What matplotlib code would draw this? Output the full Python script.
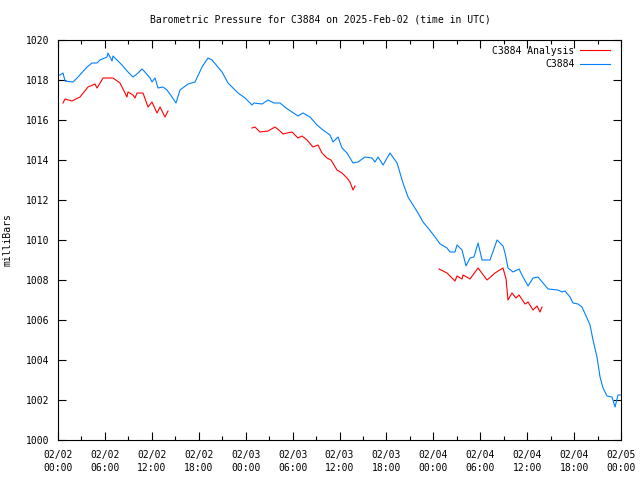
import numpy as np
import matplotlib
matplotlib.use('Agg')
import matplotlib.pyplot as plt
from matplotlib.ticker import MultipleLocator

# time in hours since 2025-02-02 00:00 UTC
obs_hours = [0.0, 0.26, 0.64, 0.9, 1.92, 2.56, 3.71, 4.35, 4.99, 5.37, 6.27, 6.39, 6.91, 7.03,
             8.18, 8.95, 9.59, 10.1, 10.74, 11.0, 11.77, 12.02, 12.41, 12.79, 13.43, 13.94,
             14.58, 15.09, 15.6, 16.63, 17.52, 18.42, 19.18, 19.7, 20.98, 21.74, 23.02, 23.92,
             24.81, 25.07, 26.09, 26.86, 27.62, 28.39, 29.16, 29.93, 30.69, 31.33, 32.23, 33.12,
             33.89, 34.79, 35.17, 35.81, 36.32, 36.96, 37.73, 38.37, 39.26, 40.16, 40.54, 40.93,
             41.57, 42.46, 43.36, 44.12, 44.76, 45.4, 46.04, 46.68, 47.32, 48.22, 48.86, 49.75,
             50.13, 50.77, 51.03, 51.67, 52.18, 52.69, 53.2, 53.72, 54.23, 55.25, 56.15, 56.91,
             57.17, 57.55, 58.19, 58.96, 59.47, 60.11, 60.75, 61.39, 62.03, 62.67, 63.94, 64.46,
             64.84, 65.48, 65.86, 66.5, 67.01, 67.65, 68.04, 68.42, 68.93, 69.32, 69.7, 70.21,
             70.85, 71.24, 71.62, 72.0]
obs_mb = [1018.25, 1018.25, 1018.35, 1017.95, 1017.9, 1018.15, 1018.65, 1018.85, 1018.85, 1019.0,
          1019.15, 1019.35, 1018.95, 1019.2, 1018.75, 1018.4, 1018.15, 1018.3, 1018.55, 1018.45,
          1018.1, 1017.9, 1018.1, 1017.6, 1017.65, 1017.5, 1017.15, 1016.85, 1017.5, 1017.8,
          1017.9, 1018.65, 1019.1, 1019.0, 1018.4, 1017.85, 1017.35, 1017.1, 1016.75, 1016.85,
          1016.8, 1017.0, 1016.85, 1016.85, 1016.6, 1016.4, 1016.2, 1016.35, 1016.15, 1015.75,
          1015.5, 1015.25, 1014.9, 1015.15, 1014.6, 1014.35, 1013.85, 1013.9, 1014.15, 1014.1,
          1013.9, 1014.15, 1013.75, 1014.35, 1013.85, 1012.85, 1012.15, 1011.75, 1011.35, 1010.9,
          1010.6, 1010.15, 1009.8, 1009.6, 1009.4, 1009.4, 1009.75, 1009.5, 1008.7, 1009.1,
          1009.15, 1009.85, 1009.0, 1009.0, 1010.0, 1009.7, 1009.35, 1008.6, 1008.4, 1008.55,
          1008.15, 1007.7, 1008.1, 1008.15, 1007.85, 1007.55, 1007.5, 1007.4, 1007.45, 1007.15,
          1006.85, 1006.8, 1006.65, 1006.1, 1005.75, 1005.0, 1004.15, 1003.15, 1002.6, 1002.2,
          1002.15, 1001.65, 1002.25, 1002.25]

ana_hours = [0.64, 0.9, 1.79, 2.81, 3.84, 4.73, 4.99, 5.76, 7.03, 7.93, 8.82, 8.95, 9.59, 9.85,
             10.1, 10.87, 11.51, 12.02, 12.66, 13.05, 13.68, 14.07,
             24.81, 25.19, 25.83, 26.86, 27.75, 28.39, 28.78, 29.29, 29.93, 30.69, 31.21, 31.85,
             32.61, 33.25, 33.76, 34.4, 34.91, 35.68, 36.32, 36.96, 37.34, 37.73, 37.98,
             48.73, 49.75, 50.77, 51.03, 51.67, 51.8, 52.69, 53.72, 54.87, 55.89, 56.91, 57.3,
             57.55, 58.06, 58.57, 58.96, 59.73, 60.11, 60.75, 61.26, 61.64, 61.9]
ana_mb = [1016.85, 1017.05, 1016.95, 1017.15, 1017.65, 1017.8, 1017.6, 1018.1, 1018.1, 1017.85,
          1017.15, 1017.4, 1017.25, 1017.1, 1017.35, 1017.35, 1016.65, 1016.9, 1016.35, 1016.65,
          1016.15, 1016.45,
          1015.6, 1015.65, 1015.4, 1015.45, 1015.65, 1015.45, 1015.3, 1015.35, 1015.4, 1015.1,
          1015.2, 1015.0, 1014.65, 1014.75, 1014.35, 1014.1, 1014.0, 1013.5, 1013.35, 1013.1,
          1012.9, 1012.5, 1012.7,
          1008.55, 1008.35, 1007.95, 1008.2, 1008.05, 1008.25, 1008.05, 1008.6, 1008.0, 1008.35,
          1008.6, 1008.05, 1007.0, 1007.35, 1007.1, 1007.25, 1006.8, 1006.9, 1006.5, 1006.7,
          1006.4, 1006.65]

tick_hours = [0, 6, 12, 18, 24, 30, 36, 42, 48, 54, 60, 66, 72]
tick_labels = ['02/02\n00:00', '02/02\n06:00', '02/02\n12:00', '02/02\n18:00',
               '02/03\n00:00', '02/03\n06:00', '02/03\n12:00', '02/03\n18:00',
               '02/04\n00:00', '02/04\n06:00', '02/04\n12:00', '02/04\n18:00',
               '02/05\n00:00']


def with_gaps(t, v, max_gap=3.0):
    # break the line where samples are missing, like gnuplot does
    t = np.asarray(t, float)
    v = np.asarray(v, float)
    cut = np.where(np.diff(t) > max_gap)[0] + 1
    t = np.insert(t, cut, np.nan)
    v = np.insert(v, cut, np.nan)
    return t, v


plt.rcParams['font.family'] = 'DejaVu Sans Mono'
plt.rcParams['font.size'] = 7

fig = plt.figure(figsize=(6.4, 4.8), dpi=100)
ax = fig.add_axes([58 / 640, 40 / 480, 563 / 640, 400 / 480])

t, v = with_gaps(ana_hours, ana_mb)
ax.plot(t, v, color='#ff0000', lw=0.8, label='C3884 Analysis')
ax.plot(obs_hours, obs_mb, color='#0080ff', lw=0.8, label='C3884')

ax.set_xlim(0, 72)
ax.set_ylim(1000, 1020)
ax.set_xticks(tick_hours)
ax.set_xticklabels(tick_labels, linespacing=1.45)
ax.xaxis.set_minor_locator(MultipleLocator(3))
ax.yaxis.set_major_locator(MultipleLocator(2))
ax.tick_params(which='both', direction='in', top=True, right=True, width=0.8, colors='black')
ax.tick_params(which='major', length=6, pad=6)
ax.tick_params(axis='x', which='major', pad=7)
ax.tick_params(which='minor', length=3)
for s in ax.spines.values():
    s.set_linewidth(0.8)

ax.set_ylabel('milliBars', labelpad=10)
fig.text(0.5, 1 - 19 / 480, 'Barometric Pressure for C3884 on 2025-Feb-02 (time in UTC)',
         ha='center', va='center')
ax.legend(loc='upper right', bbox_to_anchor=(0.99, 1.0), frameon=False, markerfirst=False,
          handlelength=3.0, handletextpad=0.6, labelspacing=0.35, borderaxespad=0.2)

fig.savefig('out.png', dpi=100)
